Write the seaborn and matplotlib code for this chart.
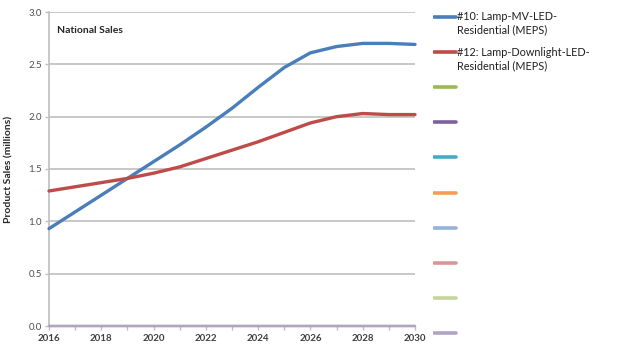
import matplotlib
matplotlib.use("Agg")
import matplotlib.pyplot as plt
import seaborn as sns
import pandas as pd

years = list(range(2016, 2031))
mv_led = [0.93, 1.09, 1.25, 1.41, 1.57, 1.73, 1.90, 2.08, 2.28, 2.47, 2.61, 2.67, 2.70, 2.70, 2.69]
downlight_led = [1.29, 1.33, 1.37, 1.41, 1.46, 1.52, 1.60, 1.68, 1.76, 1.85, 1.94, 2.00, 2.03, 2.02, 2.02]
zero_series = [0.0] * len(years)

series_names = [
    "#10: Lamp-MV-LED-\nResidential (MEPS)",
    "#12: Lamp-Downlight-LED-\nResidential (MEPS)",
    "", "", "", "", "", "", "", "",
]
series_values = [mv_led, downlight_led] + [zero_series] * 8
series_colors = ["#4A7EBB", "#BE4B48", "#98B954", "#7D60A0", "#46AAC5",
                 "#F59D56", "#95B3D7", "#D99694", "#C3D69B", "#B3A2C7"]
y_ticks = [0.0, 0.5, 1.0, 1.5, 2.0, 2.5, 3.0]

sns.set_theme(style="white")
plt.rcParams["font.family"] = ["Lato", "DejaVu Sans"]

fig = plt.figure(figsize=(6.22, 3.49), dpi=100)
ax = fig.add_axes([49 / 622, 23 / 349, 366 / 622, 314 / 349])

frames = []
for i, vals in enumerate(series_values):
    frames.append(pd.DataFrame({"year": years, "sales": vals, "series": i}))
df = pd.concat(frames, ignore_index=True)

for i, color in enumerate(series_colors):
    sub = df[df["series"] == i]
    sns.lineplot(data=sub, x="year", y="sales", color=color,
                 linewidth=2.4 if i < 2 else 1.5, ax=ax, legend=False,
                 zorder=3 + i * 0.01, clip_on=False)

ax.set_xlim(2016, 2030)
ax.set_ylim(0, 3.0)
ax.set_xticks(range(2016, 2031, 2))
ax.set_xticks(range(2016, 2031), minor=True)
ax.set_yticks(y_ticks)
ax.set_yticklabels([f"{v:.1f}" for v in y_ticks])
ax.yaxis.grid(True, color="#BFBFBF", linewidth=1.2)
ax.xaxis.grid(False)
for side in ["top", "right"]:
    ax.spines[side].set_visible(False)
for side in ["left", "bottom"]:
    ax.spines[side].set_color("#BFBFBF")
    ax.spines[side].set_linewidth(1.2)
ax.tick_params(axis="y", which="major", left=True, length=3, width=1, color="#BFBFBF",
               labelsize=7, labelcolor="#505050", pad=2)
ax.tick_params(axis="x", which="both", bottom=True, length=3, width=1, color="#BFBFBF",
               labelsize=7, labelcolor="#404040", pad=3)
for lbl in ax.get_xticklabels():
    lbl.set_fontweight("bold")
ax.set_xlabel("")
ax.set_ylabel("Product Sales (millions)", fontsize=7.5, fontweight="bold", labelpad=11)
ax.text(0.022, 0.955, "National Sales", transform=ax.transAxes, fontsize=7.5,
        fontweight="bold", va="top", ha="left")

# legend column
lax = fig.add_axes([433 / 622, 0, 189 / 622, 1])
lax.set_xlim(433, 622)
lax.set_ylim(349, 0)
lax.axis("off")
for i, (name, color) in enumerate(zip(series_names, series_colors)):
    y = 17 + i * 35.1
    lax.plot([434, 456], [y, y], color=color, linewidth=2.6, solid_capstyle="round")
    if name:
        lax.text(457, y - 5.5, name, fontsize=7.8, va="top", ha="left",
                 color="#202020", linespacing=1.25)

fig.savefig("out.png", dpi=100)
